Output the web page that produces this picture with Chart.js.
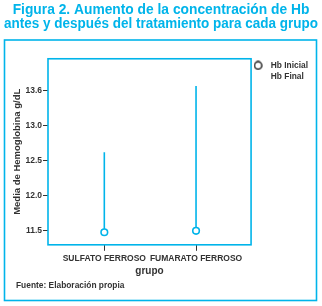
<!DOCTYPE html>
<html><head><meta charset="utf-8">
<script src="https://cdn.jsdelivr.net/npm/chart.js@4/dist/chart.umd.min.js"></script>
<style>
html,body{margin:0;padding:0;background:#fff;}
#wrap{width:322px;height:306px;position:relative;}
#fuente{position:absolute;left:16px;top:280px;font:bold 8.4px 'Liberation Sans',Arial,sans-serif;line-height:10px;color:#333;white-space:nowrap;}
</style>
</head><body><div id="wrap"><canvas id="c" width="322" height="306"></canvas><div id="fuente"></div></div>
<script>
const categories = ['SULFATO FERROSO', 'FUMARATO FERROSO'];
const hbInicial = [11.47, 11.49];
const hbFinal = [12.62, 13.57];
const yTickValues = [11.5, 12.0, 12.5, 13.0, 13.5];
const yTickLabels = ['11.5', '12.0', '12.5', '13.0', '13.6'];
const seriesNames = ['Hb Inicial', 'Hb Final'];
const sourceNote = 'Fuente: Elaboración propia';

const CYAN = '#00b4ea';
const DARK = '#333333';
const FONT = "'Liberation Sans', Arial, sans-serif";

document.getElementById('fuente').textContent = sourceNote;

// legend marker: open dark circle, drawn left inside a wider box
const legendMark = document.createElement('canvas');
legendMark.width = 13; legendMark.height = 10;
(function () {
  const g = legendMark.getContext('2d');
  g.strokeStyle = '#111';
  g.lineWidth = 1.4;
  g.beginPath();
  g.arc(4.5, 5, 3.7, 0, Math.PI * 2);
  g.stroke();
})();

const datasets = [{
  label: seriesNames[0],
  data: hbInicial.map((v, i) => ({x: i + 1, y: v})),
  showLine: false,
  pointStyle: 'circle',
  pointRadius: 3.3,
  pointBorderWidth: 1.6,
  pointBorderColor: CYAN,
  pointBackgroundColor: '#fff',
  borderColor: CYAN,
  backgroundColor: '#fff',
  order: 0
}];
categories.forEach((c, i) => {
  datasets.push({
    label: seriesNames[1] + i,
    data: [{x: i + 1, y: hbInicial[i]}, {x: i + 1, y: hbFinal[i]}],
    showLine: true,
    pointRadius: 0,
    borderColor: CYAN,
    borderWidth: 1.6,
    order: 1
  });
});

const frame = {
  id: 'frame',
  afterDraw(chart) {
    const ctx = chart.ctx, a = chart.chartArea;
    ctx.save();
    ctx.strokeStyle = CYAN;
    ctx.lineWidth = 1.6;
    ctx.strokeRect(a.left, a.top, a.right - a.left, a.bottom - a.top);
    ctx.strokeRect(4.5, 40, 312, 260.5);
    ctx.restore();
  }
};

new Chart(document.getElementById('c'), {
  type: 'scatter',
  data: {datasets},
  plugins: [frame],
  options: {
    responsive: false,
    animation: false,
    layout: {padding: {left: 4, right: 4, top: 0, bottom: 30}},
    plugins: {
      tooltip: {enabled: false},
      title: {
        display: true,
        text: ['Figura 2. Aumento de la concentración de Hb', 'antes y después del tratamiento para cada grupo'],
        color: CYAN,
        font: {family: FONT, size: 13.8, weight: 'bold', lineHeight: 0.97},
        padding: {top: 4, bottom: 28}
      },
      legend: {
        position: 'right',
        align: 'start',
        fullSize: false,
        labels: {
          color: DARK,
          font: {family: FONT, size: 8.4, weight: 'bold'},
          boxWidth: 13,
          boxHeight: 7,
          pointStyleWidth: 13,
          padding: 2.5,
          usePointStyle: true,
          generateLabels() {
            return [
              {text: seriesNames[0], pointStyle: legendMark, fillStyle: '#fff', strokeStyle: DARK, lineWidth: 1.2, hidden: false, datasetIndex: 0, fontColor: DARK},
              {text: seriesNames[1], pointStyle: false, fillStyle: 'rgba(0,0,0,0)', strokeStyle: 'rgba(0,0,0,0)', lineWidth: 0, hidden: false, datasetIndex: 1, fontColor: DARK}
            ];
          }
        }
      }
    },
    scales: {
      x: {
        type: 'linear',
        min: 0.386,
        max: 2.6,
        afterBuildTicks(s) { s.ticks = categories.map((c, i) => ({value: i + 1})); },
        ticks: {
          color: DARK,
          font: {family: FONT, size: 8.5, weight: 'bold'},
          padding: 2.5,
          maxRotation: 0,
          autoSkip: false,
          callback: (v) => categories[Math.round(v) - 1]
        },
        grid: {display: true, drawOnChartArea: false, drawTicks: true, tickLength: 6, color: DARK, tickWidth: 1},
        border: {display: false},
        title: {display: true, text: 'grupo', color: DARK, font: {family: FONT, size: 10, weight: 'bold', lineHeight: 1.0}, padding: {top: 0, bottom: 0}}
      },
      y: {
        min: 11.29,
        max: 13.96,
        afterBuildTicks(s) { s.ticks = yTickValues.map(v => ({value: v})); },
        afterFit(s) { s.width = 44; },
        ticks: {
          color: DARK,
          font: {family: FONT, size: 8.5, weight: 'bold'},
          padding: 1,
          callback: (v) => yTickLabels[yTickValues.indexOf(v)]
        },
        grid: {display: true, drawOnChartArea: false, drawTicks: true, tickLength: 5, color: DARK, tickWidth: 1},
        border: {display: false},
        title: {display: true, text: 'Media de Hemoglobina g/dL', color: DARK, font: {family: FONT, size: 9.5, weight: 'bold'}, padding: {top: 8, bottom: 4}}
      }
    }
  }
});
</script></body></html>
